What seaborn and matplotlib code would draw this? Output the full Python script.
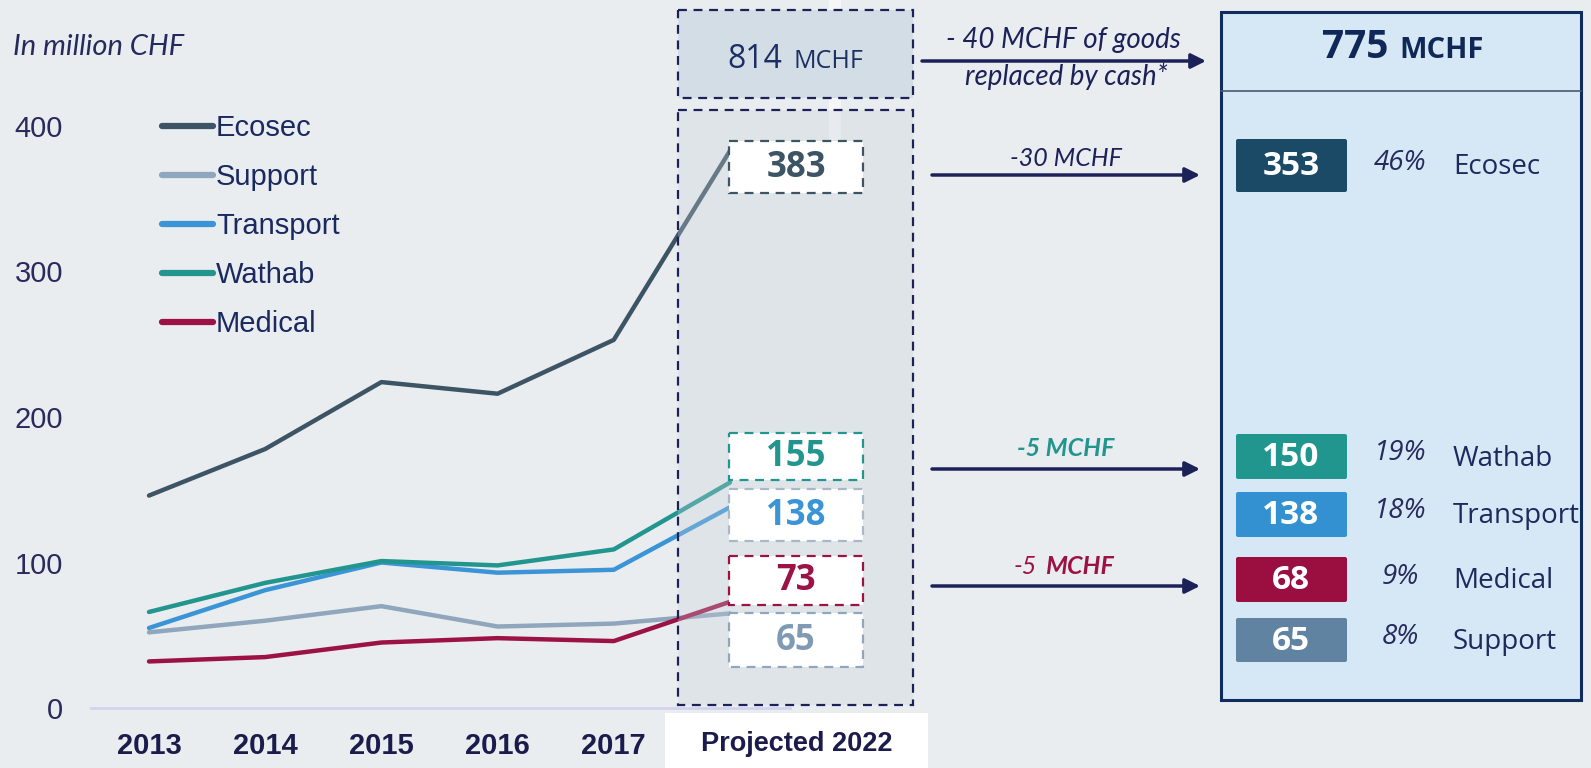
import pandas as pd
import seaborn as sns
import matplotlib.pyplot as plt
from matplotlib.patches import Rectangle, FancyBboxPatch

# data
years = ["2013", "2014", "2015", "2016", "2017", "Projected 2022"]
ecosec = [146, 178, 224, 216, 253, 383]
support = [52, 60, 70, 56, 58, 65]
transport = [55, 81, 100, 93, 95, 138]
wathab = [66, 86, 101, 98, 109, 155]
medical = [32, 35, 45, 48, 46, 73]

series_names = ["Ecosec", "Support", "Transport", "Wathab", "Medical"]
series_colors = ["#3d5464", "#8fa6bc", "#3a94d6", "#22968e", "#9c1244"]

# labels in the projected column (order top->bottom)
proj_labels = ["383", "155", "138", "73", "65"]

# final panel
final_total = "775"
final_names = ["Ecosec", "Wathab", "Transport", "Medical", "Support"]
final_values = ["353", "150", "138", "68", "65"]
final_shares = ["46%", "19%", "18%", "9%", "8%"]
final_colors = ["#1b4a66", "#20968f", "#3491d1", "#9b0e40", "#5f83a1"]

W, H = 1591, 768
BG = "#e9edf0"
NAVY = "#1c2158"

df = pd.DataFrame({"year": years * 5,
                   "value": ecosec + support + transport + wathab + medical,
                   "series": sum([[n] * len(years) for n in series_names], [])})

sns.set_style("white")
plt.rcParams["font.family"] = ["Liberation Sans", "DejaVu Sans"]

fig = plt.figure(figsize=(W / 100, H / 100), dpi=100, facecolor=BG)

# main axes in pixel placement
left, right, bottom, top = 91, 790, 708, 97
ax = fig.add_axes([left / W, 1 - bottom / H, (right - left) / W, (bottom - top) / H])
ax.set_facecolor("none")

sns.lineplot(data=df, x="year", y="value", hue="series", hue_order=series_names,
             palette=series_colors, linewidth=3.2, sort=False, ax=ax)

step = 116.2
ax.set_xlim(-(149 - left) / step, 5 + (right - 730) / step)
ax.set_ylim(0, (bottom - top) / 1.455)
ax.set_yticks([0, 100, 200, 300, 400])
ax.set_xticks(range(5))
ax.set_xticklabels(years[:5], fontsize=21, fontweight="bold", color="#1c1c4c")
ax.tick_params(axis="y", labelsize=21, labelcolor="#2a2a5c", pad=20, length=0)
ax.tick_params(axis="x", pad=17, length=0)
ax.set_xlabel("")
ax.set_ylabel("")
for s in ["top", "right", "left"]:
    ax.spines[s].set_visible(False)
ax.spines["bottom"].set_color("#d3d3f0")
ax.spines["bottom"].set_linewidth(2)

leg = ax.legend(frameon=False, fontsize=21, handlelength=1.75, handletextpad=0.1,
                labelspacing=0.72, loc="upper left", borderpad=0, borderaxespad=0,
                bbox_to_anchor=(162 / W, 1 - 114 / H), bbox_transform=fig.transFigure)
for t in leg.get_texts():
    t.set_color("#1a2a60")
for l in leg.get_lines():
    l.set_linewidth(4.5)

# overlay in pixel coordinates
ov = fig.add_axes([0, 0, 1, 1], zorder=5)
ov.set_xlim(0, W)
ov.set_ylim(H, 0)
ov.axis("off")
ov.patch.set_alpha(0)

dash = (0, (4, 3))

ov.text(13, 47, "In million CHF", fontsize=21, style="italic", color="#262a5c",
        family="Lato", va="center", ha="left")

# faint white stripe behind the projected column
ov.add_patch(Rectangle((829, 0), 12, 140, facecolor="white", alpha=0.55, lw=0, zorder=1))

# projected column boxes
ov.add_patch(Rectangle((678, 10), 235, 88, facecolor="#d3dde6", edgecolor=NAVY,
                       lw=1.6, ls=dash, zorder=2))
ov.text(782, 68, "814", fontsize=23, color="#1c2f63", family="Open Sans",
        ha="right", va="baseline", zorder=3)
ov.text(793, 68, "MCHF", fontsize=18, color="#1c2f63", family="Open Sans",
        ha="left", va="baseline", zorder=3)

ov.add_patch(Rectangle((678, 110), 235, 595, facecolor="#c8d0d8", alpha=0.3, lw=0, zorder=2))
ov.add_patch(Rectangle((678, 110), 235, 595, facecolor="none", edgecolor=NAVY,
                       lw=1.6, ls=dash, zorder=2))

ov.add_patch(Rectangle((665, 713), 263, 60, facecolor="white", lw=0, zorder=2))
ov.text(797, 744, "Projected 2022", fontsize=19.5, fontweight="bold", color="#1c1c4c",
        ha="center", va="center", zorder=3)

box_y = [(141, 193), (433, 480), (489, 541), (556, 605), (613, 667)]
box_text = ["#3d5464", "#22968e", "#3a94d6", "#9c1244", "#7f9ab2"]
box_edge = ["#3d5464", "#22968e", "#a9b8c8", "#9c1244", "#8fa6bc"]
for (y0, y1), lab, tc, ec in zip(box_y, proj_labels, box_text, box_edge):
    ov.add_patch(Rectangle((729, y0), 134, y1 - y0, facecolor="white", edgecolor=ec,
                           lw=1.6, ls=dash, zorder=3))
    ov.text(796, (y0 + y1) / 2 + 1, lab, fontsize=25, fontweight="bold", color=tc,
            family="Open Sans", ha="center", va="center", zorder=4)

# arrows
arrows = [(922, 1206, 61), (932, 1200, 175), (932, 1200, 469), (932, 1200, 586)]
for x0, x1, y in arrows:
    ov.annotate("", xy=(x1, y), xytext=(x0, y),
                arrowprops=dict(arrowstyle="-|>", color=NAVY, lw=2.5,
                                mutation_scale=22, shrinkA=0, shrinkB=0), zorder=4)

ov.text(1063, 40, "- 40 MCHF of goods", fontsize=20, style="italic", color=NAVY,
        family="Lato", ha="center", va="center", zorder=4)
ov.text(1066, 76, "replaced by cash*", fontsize=20, style="italic", color=NAVY,
        family="Lato", ha="center", va="center", zorder=4)
ov.text(1066, 159, "-30 MCHF", fontsize=18, style="italic", color=NAVY,
        family="Lato", ha="center", va="center", zorder=4)
ov.text(1066, 449, "-5 MCHF", fontsize=18, style="italic", fontweight="bold",
        color="#22968e", family="Lato", ha="center", va="center", zorder=4)
ov.text(1037, 566, "-5", fontsize=18, style="italic", color="#9c1244",
        family="Lato", ha="right", va="center", zorder=4)
ov.text(1045, 566, "MCHF", fontsize=18, style="italic", fontweight="bold",
        color="#9c1244", family="Lato", ha="left", va="center", zorder=4)

# final panel
ov.add_patch(Rectangle((1221, 12), 360, 688, facecolor="#d6e8f6", edgecolor="#0f2c5e",
                       lw=2.2, zorder=2))
ov.plot([1221, 1581], [91, 91], color="#4a5a6a", lw=1.2, zorder=3)
ov.text(1388, 58, final_total, fontsize=28, fontweight="bold", color="#0f2858",
        family="Open Sans", ha="right", va="baseline", zorder=4)
ov.text(1399, 58, "MCHF", fontsize=21, fontweight="bold", color="#0f2858",
        family="Open Sans", ha="left", va="baseline", zorder=4)

row_y = [(139, 192), (434, 479), (492, 537), (557, 602), (618, 662)]
for (y0, y1), name, val, share, col in zip(row_y, final_names, final_values,
                                            final_shares, final_colors):
    yc = (y0 + y1) / 2
    ov.add_patch(FancyBboxPatch((1236, y0), 111, y1 - y0,
                                boxstyle="round,pad=0,rounding_size=2",
                                facecolor=col, lw=0, zorder=3))
    ov.text(1291, yc + 1, val, fontsize=24, fontweight="bold", color="white",
            family="Open Sans", ha="center", va="center", zorder=4)
    ov.text(1400, yc - 3, share, fontsize=20, style="italic", color="#262a5c",
            family="Open Sans", ha="center", va="center", zorder=4)
    ov.text(1453, yc + 2, name, fontsize=20, color="#1c2a5c",
            family="Open Sans", ha="left", va="center", zorder=4)

fig.savefig("out.png", dpi=100, facecolor=BG)
